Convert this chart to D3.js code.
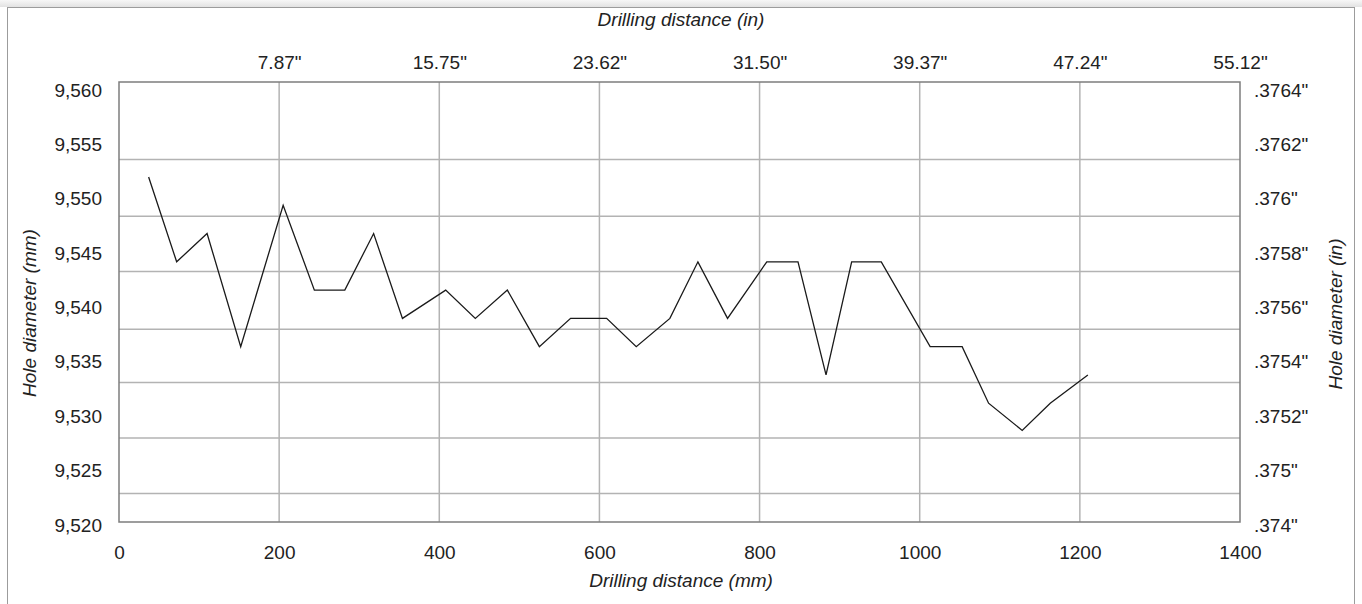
<!DOCTYPE html>
<html>
<head>
<meta charset="utf-8">
<script src="https://cdn.jsdelivr.net/npm/d3@7"></script>
<style>
	body { margin: 0; background: #fff; }
	svg { display: block; }
	text { font-family: "Liberation Sans", Arial, Helvetica, sans-serif; fill: #222; }
</style>
</head>
<body>
<svg id="chart"></svg>
<script>

	// drilling distance (mm) of each measurement
	var distanceMm = [37, 72, 110, 152, 205, 244, 282, 318, 354, 408, 445, 485, 525, 564, 609,
		646, 688, 723, 760, 809, 848, 883, 915, 952, 1013, 1053, 1086, 1128, 1163, 1210];

	// hole diameter (mm) of each measurement
	var diameterMm = [9.5520, 9.5442, 9.5468, 9.5364, 9.5494, 9.5416, 9.5416, 9.5468, 9.5390, 9.5416,
		9.5390, 9.5416, 9.5364, 9.5390, 9.5390, 9.5364, 9.5390, 9.5442, 9.5390, 9.5442,
		9.5442, 9.5338, 9.5442, 9.5442, 9.5364, 9.5364, 9.5312, 9.5287, 9.5312, 9.5338];

	// axis ticks
	var xTicks = [0, 200, 400, 600, 800, 1000, 1200, 1400];
	var xTopTicks = [200, 400, 600, 800, 1000, 1200, 1400];
	var yTicks = [9.560, 9.555, 9.550, 9.545, 9.540, 9.535, 9.530, 9.525, 9.520];
	var yLabels = ["9,560", "9,555", "9,550", "9,545", "9,540", "9,535", "9,530", "9,525", "9,520"];
	var inLabels = ['.3764"', '.3762"', '.376"', '.3758"', '.3756"', '.3754"', '.3752"', '.375"', '.374"'];

	// horizontal grid lines (mm), as they sit in the original
	var gridMm = [9.5536, 9.5484, 9.5433, 9.5380, 9.5331, 9.5280, 9.5229];

	var W = 1362, H = 604;
	var plotL = 119, plotR = 1240, plotT = 82, plotB = 522;

	var svg = d3.select("#chart")
		.attr("width", W)
		.attr("height", H);

	// page frame
	var defs = svg.append("defs");
	var grad = defs.append("linearGradient")
		.attr("id", "shade")
		.attr("x1", 0).attr("x2", 0).attr("y1", 0).attr("y2", 1);
	grad.append("stop").attr("offset", "0%").attr("stop-color", "#f7f7f7");
	grad.append("stop").attr("offset", "100%").attr("stop-color", "#e2e2e2");

	svg.append("rect")
		.attr("x", 0).attr("y", 0)
		.attr("width", W).attr("height", 7)
		.style("fill", "url(#shade)");

	svg.append("rect")
		.attr("x", 7.5).attr("y", 7.5)
		.attr("width", 1347).attr("height", 620)
		.style("fill", "#fff")
		.style("stroke", "#9c9c9c")
		.style("stroke-width", 1);

	var x = d3.scaleLinear()
		.domain([0, 1400])
		.range([plotL, plotR]);

	var y = d3.scaleLinear()
		.domain([9.520, 9.560])
		.range([525, 90]);

	// grid
	var grid = svg.append("g").attr("class", "grid");

	grid.selectAll("line.v")
		.data(xTicks.slice(1, -1))
		.enter().append("line")
		.attr("class", "v")
		.attr("x1", function(d) { return x(d); })
		.attr("x2", function(d) { return x(d); })
		.attr("y1", plotT)
		.attr("y2", plotB)
		.style("stroke", "#b3b3b3")
		.style("stroke-width", 1.5);

	grid.selectAll("line.h")
		.data(gridMm)
		.enter().append("line")
		.attr("class", "h")
		.attr("x1", plotL)
		.attr("x2", plotR)
		.attr("y1", function(d) { return y(d); })
		.attr("y2", function(d) { return y(d); })
		.style("stroke", "#b3b3b3")
		.style("stroke-width", 1.5);

	// plot frame
	svg.append("rect")
		.attr("x", plotL).attr("y", plotT)
		.attr("width", plotR - plotL).attr("height", plotB - plotT)
		.style("fill", "none")
		.style("stroke", "#7d7d7d")
		.style("stroke-width", 1.5);

	// axes
	function styleAxis(g) {
		g.select(".domain").remove();
		g.selectAll("line").remove();
		g.selectAll("text")
			.style("font-size", "19px")
			.style("fill", "#222");
	}

	svg.append("g")
		.attr("transform", "translate(" + plotL + ",0)")
		.call(d3.axisLeft(y).tickValues(yTicks).tickSize(0).tickPadding(17)
			.tickFormat(function(d, i) { return yLabels[i]; }))
		.call(styleAxis);

	svg.append("g")
		.attr("transform", "translate(" + plotR + ",0)")
		.call(d3.axisRight(y).tickValues(yTicks).tickSize(0).tickPadding(14)
			.tickFormat(function(d, i) { return inLabels[i]; }))
		.call(styleAxis);

	svg.append("g")
		.attr("transform", "translate(0," + plotB + ")")
		.call(d3.axisBottom(x).tickValues(xTicks).tickSize(0).tickPadding(0)
			.tickFormat(d3.format("d")))
		.call(styleAxis)
		.selectAll("text")
		.attr("y", 30)
		.attr("dy", "0.35em");

	svg.append("g")
		.attr("transform", "translate(0," + plotT + ")")
		.call(d3.axisTop(x).tickValues(xTopTicks).tickSize(0).tickPadding(0)
			.tickFormat(function(d) { return (d / 25.4).toFixed(2) + '"'; }))
		.call(styleAxis)
		.selectAll("text")
		.attr("y", -20)
		.attr("dy", "0.35em");

	// titles
	function title(txt, tx, ty, rot) {
		svg.append("text")
			.attr("transform", "translate(" + tx + "," + ty + ")" + (rot ? " rotate(-90)" : ""))
			.attr("text-anchor", "middle")
			.attr("dy", "0.35em")
			.style("font-size", "19px")
			.style("font-style", "italic")
			.text(txt);
	}
	title("Drilling distance (in)", 681, 19, false);
	title("Drilling distance (mm)", 681, 580, false);
	title("Hole diameter (mm)", 29, 313, true);
	title("Hole diameter (in)", 1335, 314, true);

	// data line
	var line = d3.line()
		.x(function(d) { return x(d[0]); })
		.y(function(d) { return y(d[1]); });

	svg.append("path")
		.datum(d3.zip(distanceMm, diameterMm))
		.attr("d", line)
		.style("fill", "none")
		.style("stroke", "#1a1a1a")
		.style("stroke-width", 1.3)
		.style("stroke-linejoin", "miter");

</script>
</body>
</html>
